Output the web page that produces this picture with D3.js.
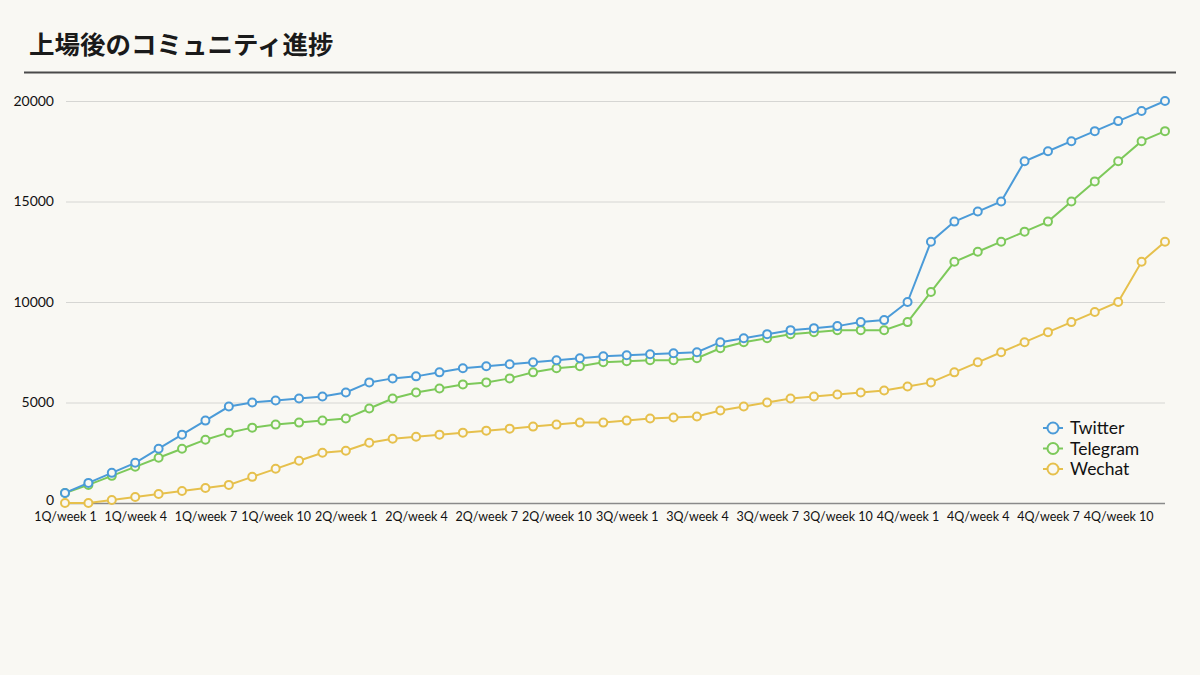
<!DOCTYPE html>
<html><head><meta charset="utf-8">
<script src="https://cdn.jsdelivr.net/npm/d3@7"></script>
<style>
html,body{margin:0;padding:0;background:#f9f8f3;}
svg{display:block;}
</style></head>
<body>
<svg id="c" width="1200" height="675"></svg>
<script>
const quarters = ["1Q","2Q","3Q","4Q"];
const categories = [];
quarters.forEach(q => { for (let w = 1; w <= 12; w++) categories.push(q + "/week " + w); });
const tickLabels = categories.filter((d, i) => i % 3 === 0);
const yTicks = [0, 5000, 10000, 15000, 20000];

const twitter = [500,1000,1500,2000,2700,3400,4100,4800,5000,5100,5200,5300,
  5500,6000,6200,6300,6500,6700,6800,6900,7000,7100,7200,7300,
  7350,7400,7450,7500,8000,8200,8400,8600,8700,8800,9000,9100,
  10000,13000,14000,14500,15000,17000,17500,18000,18500,19000,19500,20000];
const telegram = [500,900,1350,1800,2250,2700,3150,3500,3750,3900,4000,4100,
  4200,4700,5200,5500,5700,5900,6000,6200,6500,6700,6800,7000,
  7050,7100,7100,7200,7700,8000,8200,8400,8500,8600,8600,8600,
  9000,10500,12000,12500,13000,13500,14000,15000,16000,17000,18000,18500];
const wechat = [0,0,150,300,450,600,750,900,1300,1700,2100,2500,
  2600,3000,3200,3300,3400,3500,3600,3700,3800,3900,4000,4000,
  4100,4200,4250,4300,4600,4800,5000,5200,5300,5400,5500,5600,
  5800,6000,6500,7000,7500,8000,8500,9000,9500,10000,12000,13000];

const seriesNames = ["Twitter","Telegram","Wechat"];
const seriesValues = [twitter, telegram, wechat];
const colors = ["#4b9bd8","#7dc95a","#e6c04c"];

const svg = d3.select("#c");
const bg = "#f9f8f3";

// title
svg.append("text").attr("x", 29).attr("y", 54)
  .attr("font-family", "'Noto Sans CJK JP', sans-serif")
  .attr("font-weight", 700).attr("font-size", 25.5).attr("fill", "#1a1a1a")
  .text("上場後のコミュニティ進捗");
svg.append("line").attr("x1", 24).attr("x2", 1176).attr("y1", 72.5).attr("y2", 72.5)
  .attr("stroke", "#4a4a4a").attr("stroke-width", 2);

const x = d3.scalePoint().domain(categories).range([65, 1165]);
const y = d3.scaleLinear().domain([0, 20000]).range([503, 101]);

const font = "Lato, 'Open Sans', sans-serif";

// grid
const grid = svg.append("g");
grid.selectAll("line").data(yTicks.filter(d => d > 0)).join("line")
  .attr("x1", 66).attr("x2", 1165)
  .attr("y1", d => y(d) + 0.5).attr("y2", d => y(d) + 0.5)
  .attr("stroke", "#d6d6d3").attr("stroke-width", 1);

// y axis
const yAxis = svg.append("g").attr("transform", "translate(66,0)")
  .call(d3.axisLeft(y).tickValues(yTicks).tickSize(0).tickPadding(12).tickFormat(d3.format("d")));
yAxis.select(".domain").remove();
yAxis.selectAll("text").attr("font-family", font).attr("font-size", 14).attr("fill", "#111");
yAxis.selectAll(".tick").filter(d => d === 0).select("text").attr("dy", "0.1em");

// x axis
const xAxis = svg.append("g").attr("transform", "translate(0,503)")
  .call(d3.axisBottom(x).tickValues(tickLabels).tickSize(0).tickPadding(9));
xAxis.select(".domain").attr("d", "M66,0.5H1165").attr("stroke", "#8a8a8a").attr("stroke-width", 1.5);
xAxis.selectAll("text").attr("font-family", font).attr("font-size", 12.5).attr("fill", "#111");

// lines
const line = d3.line().x((d, i) => x(categories[i])).y(d => y(d));
seriesValues.slice().reverse().forEach((vals, ri) => {
  const si = seriesValues.length - 1 - ri;
  const g = svg.append("g");
  g.append("path").datum(vals).attr("d", line)
    .attr("fill", "none").attr("stroke", colors[si]).attr("stroke-width", 2);
  g.selectAll("circle").data(vals).join("circle")
    .attr("cx", (d, i) => x(categories[i])).attr("cy", d => y(d)).attr("r", 4)
    .attr("fill", bg).attr("stroke", colors[si]).attr("stroke-width", 2);
});

// legend
const leg = svg.append("g").attr("transform", "translate(1053,428)");
seriesNames.forEach((n, i) => {
  const r = leg.append("g").attr("transform", `translate(0,${i * 20.5})`);
  r.append("line").attr("x1", -10).attr("x2", 10).attr("y1", 0).attr("y2", 0)
    .attr("stroke", colors[i]).attr("stroke-width", 2);
  r.append("circle").attr("r", 5.5).attr("fill", bg).attr("stroke", colors[i]).attr("stroke-width", 2);
  r.append("text").attr("x", 17).attr("y", 0).attr("dy", "0.35em")
    .attr("font-family", font).attr("font-size", 17.5).attr("fill", "#111").text(n);
});
</script>
</body></html>
